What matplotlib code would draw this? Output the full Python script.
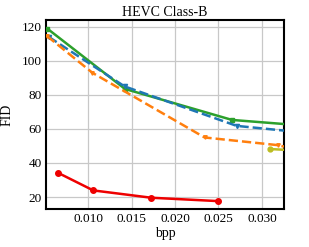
import matplotlib
matplotlib.use('Agg')
import matplotlib.pyplot as plt

plt.rcParams['font.family'] = 'Liberation Serif'

# bpp / FID
red_bpp = [0.00652, 0.0106, 0.01726, 0.0250]
red_fid = [34.3, 23.9, 19.6, 17.6]

green_bpp = [0.0053, 0.01425, 0.02656, 0.0340]
green_fid = [119.0, 83.5, 65.3, 62.3]

blue_bpp = [0.0055, 0.0142, 0.0271, 0.0340]
blue_fid = [114.0, 85.0, 61.8, 58.3]

orange_bpp = [0.0053, 0.0105, 0.0234, 0.0318, 0.0340]
orange_fid = [114.5, 93.0, 55.0, 50.5, 48.0]

olive_bpp = [0.0309, 0.0340]
olive_fid = [48.2, 47.4]

fig = plt.figure(figsize=(3.09, 2.47), dpi=100)
ax = fig.add_axes([0.149, 0.154, 0.770, 0.765])

ax.plot(green_bpp, green_fid, '-s', color='#2ca02c', lw=1.8, ms=3.5, zorder=3)
ax.plot(blue_bpp, blue_fid, '--v', color='#1f77b4', lw=1.8, ms=3, zorder=3)
ax.plot(orange_bpp, orange_fid, '--v', color='#ff7f0e', lw=1.8, ms=2.5, zorder=3)
ax.plot(olive_bpp, olive_fid, '-o', color='#bcbd22', lw=1.8, ms=3.5, zorder=3)
ax.plot(red_bpp, red_fid, '-o', color='#ee0000', lw=1.8, ms=4, zorder=4)

ax.set_xlim(0.00517, 0.03253)
ax.set_ylim(13, 124)
ax.set_xticks([0.010, 0.015, 0.020, 0.025, 0.030])
ax.set_xticklabels(['0.010', '0.015', '0.020', '0.025', '0.030'])
ax.set_yticks([20, 40, 60, 80, 100, 120])
ax.tick_params(labelsize=9.5, length=0, pad=3)
ax.grid(True, color='#c8c8c8', lw=0.9)
ax.set_axisbelow(True)
for s in ax.spines.values():
    s.set_linewidth(1.5)
    s.set_color('black')

ax.set_title('HEVC Class-B', fontsize=10, pad=3)
ax.set_xlabel('bpp', fontsize=10, labelpad=1)
ax.set_ylabel('FID', fontsize=10, labelpad=6)

fig.savefig('out.png', dpi=100)
